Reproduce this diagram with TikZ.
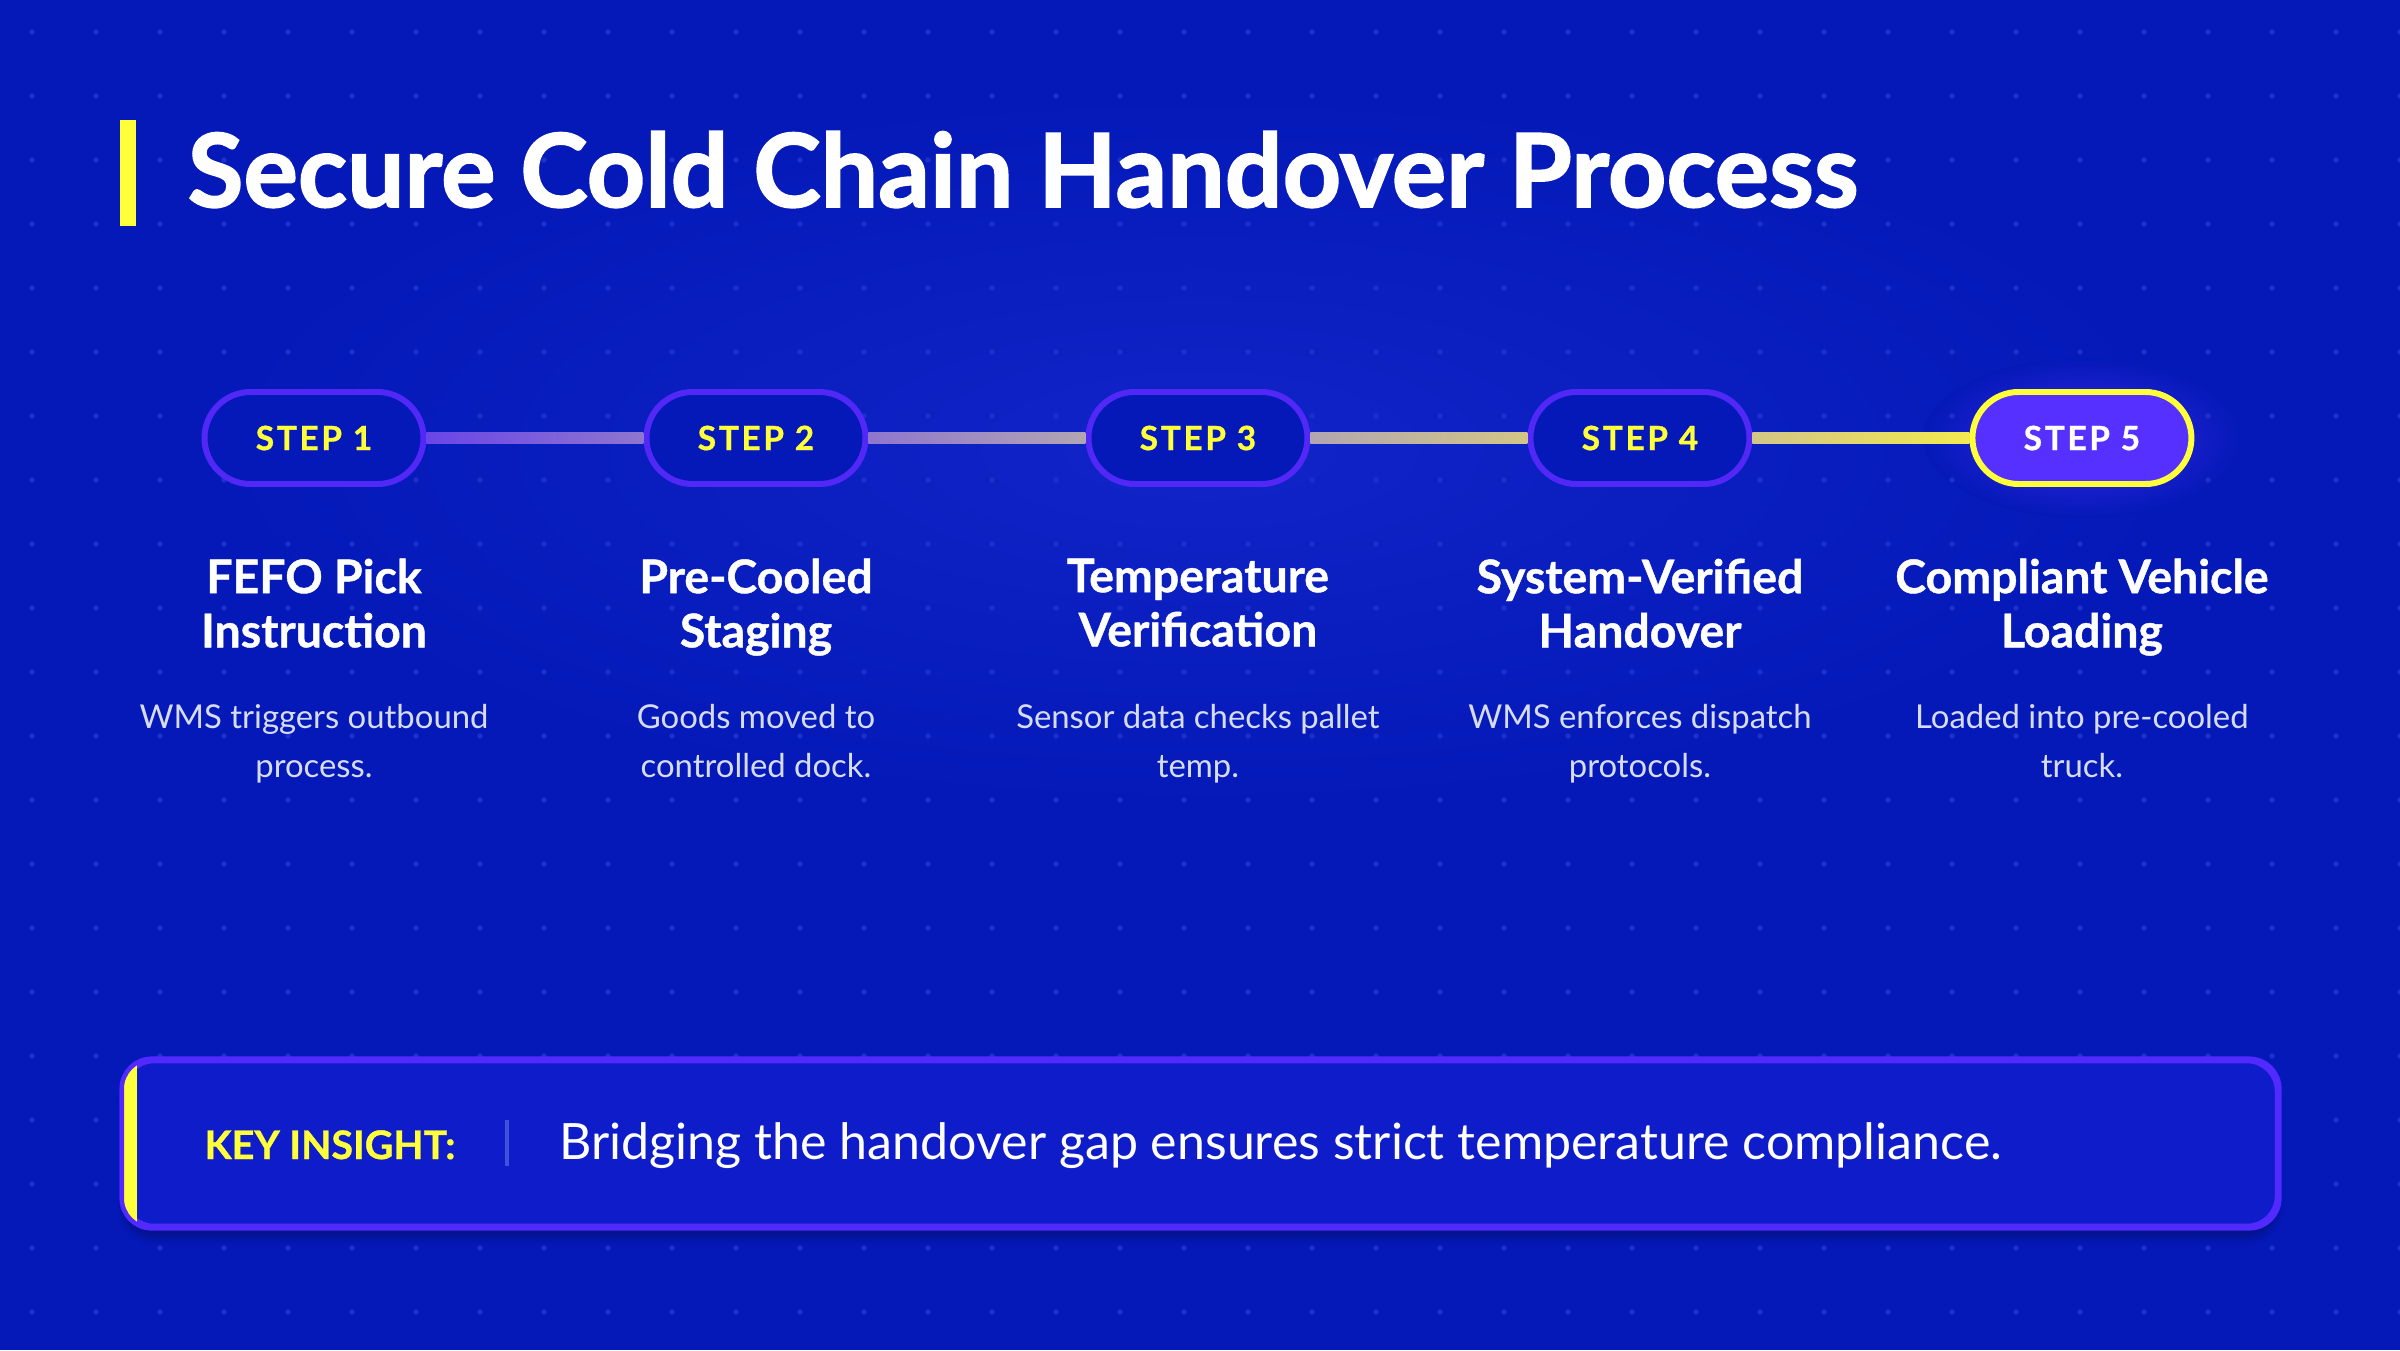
\documentclass[tikz,border=0pt]{standalone}
\usepackage{fontspec}
\setmainfont{Lato}
\newfontfamily\heavyfont{Lato}[FakeBold=1.6]
\newfontfamily\semiheavyfont{Lato}[FakeBold=0.9]
\usetikzlibrary{positioning, shadows.blur}

\definecolor{bgblue}{HTML}{0419B8}
\definecolor{dotblue}{HTML}{1A30C6}
\definecolor{glowblue}{HTML}{1124C8}
\definecolor{pillline}{HTML}{5128F6}
\definecolor{pillhot}{HTML}{5530FF}
\definecolor{hiyellow}{HTML}{FFFF3A}
\definecolor{desctext}{HTML}{D6DBF6}
\definecolor{boxfill}{HTML}{0F1CC9}
\definecolor{boxline}{HTML}{5229FF}
\definecolor{sepline}{HTML}{4152DA}
\definecolor{lc1}{HTML}{6A45E8}
\definecolor{lc2}{HTML}{8F76CE}
\definecolor{lc3}{HTML}{B2A6B2}
\definecolor{lc4}{HTML}{D2C686}
\definecolor{lc5}{HTML}{F2EA4E}

\begin{document}
\begin{tikzpicture}[
      node distance=0.71cm and 2.17cm,
      pill/.style={draw=pillline, line width=1.7pt, fill=bgblue, rounded corners=0.46cm, minimum width=2.19cm, minimum height=0.92cm, inner sep=0pt, text=hiyellow, font=\fontsize{9.5}{10}\selectfont\semiheavyfont\bfseries\addfontfeature{LetterSpace=8}},
      hotpill/.style={pill, draw=hiyellow, fill=pillhot, text=white},
      steptitle/.style={align=center, inner sep=0pt, text=white, font=\fontsize{13.2}{15.4}\selectfont\semiheavyfont\bfseries},
      stepdesc/.style={align=center, inner sep=0pt, anchor=north, text=desctext, font=\fontsize{9.35}{13.7}\selectfont}
    ]
    \useasboundingbox (0,0) rectangle (24,13.5);
    \fill[bgblue] (0,0) rectangle (24,13.5);
    % soft glows behind the steps
    \shade[inner color=glowblue, outer color=bgblue] (12,9.0) ellipse (10 and 3.6);
    \shade[inner color=pillhot!65!bgblue, outer color=bgblue] (20.83,9.12) ellipse (1.6 and 0.8);
    \foreach \i in {0,...,37}
      \foreach \j in {0,...,20}
        \fill[dotblue] (0.32+0.64*\i, 13.18-0.64*\j) circle (0.028);

    % title
    \fill[hiyellow] (1.20,11.24) rectangle (1.36,12.30);
    \node[anchor=base west, inner sep=0pt, text=white, font=\fontsize{29.0}{30}\selectfont\heavyfont\bfseries] (title) at (1.87,11.43) {Secure Cold Chain Handover Process};

    % steps
    \node[pill] (p1) at (3.14,9.12) {STEP 1};
    \node[pill, right=of p1] (p2) {STEP 2};
    \node[pill, right=of p2] (p3) {STEP 3};
    \node[pill, right=of p3] (p4) {STEP 4};
    \node[hotpill, right=of p4] (p5) {STEP 5};
    \shade[left color=lc1, right color=lc2] ([yshift=-0.055cm]p1.east) rectangle ([yshift=0.055cm]p2.west);
    \shade[left color=lc2, right color=lc3] ([yshift=-0.055cm]p2.east) rectangle ([yshift=0.055cm]p3.west);
    \shade[left color=lc3, right color=lc4] ([yshift=-0.055cm]p3.east) rectangle ([yshift=0.055cm]p4.west);
    \shade[left color=lc4, right color=lc5] ([yshift=-0.055cm]p4.east) rectangle ([yshift=0.055cm]p5.west);

    \node[steptitle, below=of p1] (t1) {FEFO Pick\\Instruction};
    \node[steptitle, below=of p2] (t2) {Pre-Cooled\\Staging};
    \node[steptitle, below=of p3] (t3) {Temperature\\Verification};
    \node[steptitle, below=of p4] (t4) {System-Verified\\Handover};
    \node[steptitle, below=of p5] (t5) {Compliant Vehicle\\Loading};

    \coordinate (descrow) at (0,6.46);
    \node[stepdesc] (d1) at (p1 |- descrow) {WMS triggers outbound\\process.};
    \node[stepdesc] (d2) at (p2 |- descrow) {Goods moved to\\controlled dock.};
    \node[stepdesc] (d3) at (p3 |- descrow) {Sensor data checks pallet\\temp.};
    \node[stepdesc] (d4) at (p4 |- descrow) {WMS enforces dispatch\\protocols.};
    \node[stepdesc] (d5) at (p5 |- descrow) {Loaded into pre-cooled\\truck.};

    % key insight
    \node[draw=boxline, line width=1.3pt, fill=boxfill, rounded corners=0.3cm, minimum width=21.53cm, minimum height=1.65cm, blur shadow={shadow xshift=0cm, shadow yshift=-0.12cm, shadow opacity=25, shadow blur steps=8}] (insight) at (12.005,2.065) {};
    \begin{scope}
      \clip[rounded corners=0.3cm] (insight.south west) rectangle (insight.north east);
      \fill[hiyellow] (insight.south west) rectangle ([xshift=0.15cm]insight.north west);
    \end{scope}
    \draw[boxline, line width=1.3pt, rounded corners=0.3cm] (insight.south west) rectangle (insight.north east);
    \node[anchor=base west, inner sep=0pt, text=hiyellow, font=\fontsize{11.2}{12}\selectfont\semiheavyfont\bfseries] (keylbl) at (2.04,1.91) {KEY INSIGHT:};
    \draw[sepline, line width=1pt] (5.07,1.84) -- (5.07,2.30);
    \node[anchor=base west, inner sep=0pt, text=white, font=\fontsize{14.25}{16}\selectfont] (keytxt) at (5.59,1.91) {Bridging the handover gap ensures strict temperature compliance.};
  \end{tikzpicture}
\end{document}
